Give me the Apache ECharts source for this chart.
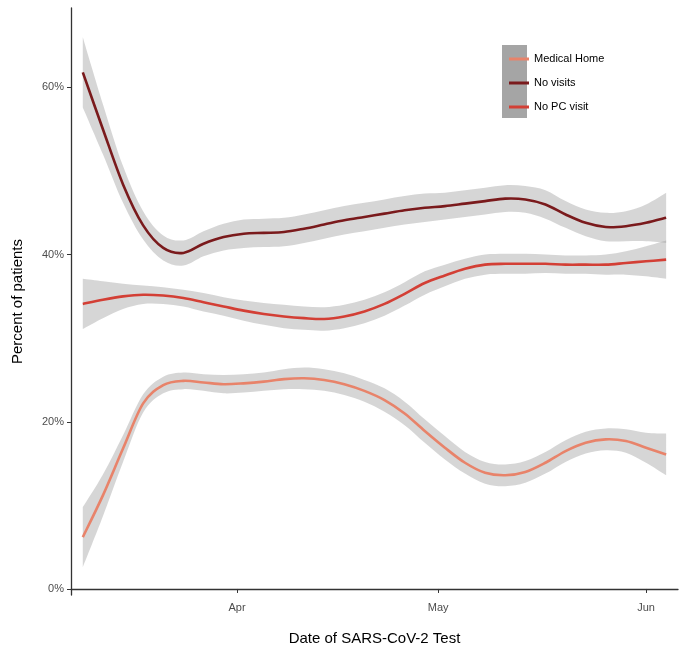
<!DOCTYPE html>
<html>
<head>
<meta charset="utf-8">
<script src="https://cdn.jsdelivr.net/npm/echarts@6/dist/echarts.min.js"></script>
<style>
html,body{margin:0;padding:0;background:#fff;}
#chart{width:686px;height:653px;}
</style>
</head>
<body>
<div id="chart"></div>
<script>
// ---- data ----
const dates = ['2020-03-09','2020-03-12','2020-03-15','2020-03-18','2020-03-21','2020-03-24','2020-03-27','2020-03-30',
  '2020-04-02','2020-04-05','2020-04-08','2020-04-11','2020-04-14','2020-04-17','2020-04-20','2020-04-23','2020-04-26','2020-04-29',
  '2020-05-02','2020-05-05','2020-05-08','2020-05-11','2020-05-14','2020-05-17','2020-05-20','2020-05-23','2020-05-26','2020-05-29',
  '2020-06-01','2020-06-04'];

const seriesNames = ['Medical Home', 'No visits', 'No PC visit'];

const medicalHome = [6.2,11.2,16.8,22.2,24.4,24.9,24.7,24.5,24.6,24.8,25.1,25.2,25.0,24.5,23.7,22.6,21.0,18.9,
  16.9,15.1,13.9,13.6,14.0,15.1,16.5,17.5,17.9,17.7,16.9,16.1];
const medicalHomeSE = [3.6,2.5,1.6,1.1,1.0,1.0,1.0,1.1,1.1,1.1,1.2,1.3,1.3,1.3,1.3,1.4,1.4,1.4,
  1.4,1.3,1.3,1.3,1.3,1.3,1.3,1.3,1.3,1.4,1.8,2.5];

const noVisits = [61.8,55.0,48.4,43.5,40.8,40.2,41.3,42.1,42.5,42.6,42.7,43.1,43.6,44.1,44.5,44.9,45.3,45.6,
  45.8,46.1,46.4,46.7,46.6,46.0,44.8,43.8,43.3,43.4,43.8,44.4];
const noVisitsSE = [4.2,3.0,2.2,1.7,1.5,1.5,1.5,1.6,1.7,1.7,1.7,1.7,1.7,1.7,1.7,1.7,1.7,1.7,
  1.6,1.6,1.6,1.6,1.6,1.7,1.6,1.6,1.7,1.8,2.2,3.0];

const noPCVisit = [34.1,34.6,35.0,35.2,35.1,34.8,34.3,33.8,33.3,32.9,32.6,32.4,32.3,32.6,33.2,34.1,35.3,36.6,
  37.5,38.3,38.8,38.9,38.9,38.9,38.8,38.8,38.8,39.0,39.2,39.4];
const noPCVisitSE = [3.0,2.2,1.5,1.1,1.0,1.0,1.1,1.1,1.2,1.3,1.4,1.4,1.4,1.4,1.4,1.4,1.4,1.4,
  1.3,1.2,1.2,1.2,1.2,1.1,1.1,1.1,1.2,1.4,1.8,2.3];

const xTickDates = ['2020-04-01','2020-05-01','2020-06-01'];
const xTickLabels = ['Apr','May','Jun'];
const yTicks = [0, 20, 40, 60];

// ---- build chart ----
const colors = ['#e8836a', '#7a1a1c', '#d33f35'];
const values = [medicalHome, noVisits, noPCVisit];
const ses = [medicalHomeSE, noVisitsSE, noPCVisitSE];

const DAY = 86400000;
function ts(s) { const p = s.split('-').map(Number); return Date.UTC(p[0], p[1]-1, p[2]) / DAY; } // days since epoch
const xs = dates.map(ts);
const xTickTs = xTickDates.map(ts);
const xMin = xTickTs[0] - 24.76;
const xMax = xTickTs[2] + 4.77;

// smooth path segment through pixel points (Catmull-Rom -> cubic Bezier)
function curveCmds(pts) {
  let d = '';
  for (let i = 0; i < pts.length - 1; i++) {
    const p0 = pts[Math.max(i - 1, 0)], p1 = pts[i], p2 = pts[i + 1], p3 = pts[Math.min(i + 2, pts.length - 1)];
    const c1 = [p1[0] + (p2[0] - p0[0]) / 6, p1[1] + (p2[1] - p0[1]) / 6];
    const c2 = [p2[0] - (p3[0] - p1[0]) / 6, p2[1] - (p3[1] - p1[1]) / 6];
    d += ' C' + c1[0] + ',' + c1[1] + ' ' + c2[0] + ',' + c2[1] + ' ' + p2[0] + ',' + p2[1];
  }
  return d;
}

const series = [];
// confidence ribbons
values.forEach((vals, i) => {
  const se = ses[i];
  const rows = vals.map((v, k) => [xs[k], v - se[k], v + se[k]]);
  series.push({
    type: 'custom', name: 'ribbon' + i, data: rows, z: 1, silent: true,
    encode: { x: 0, y: [1, 2] },
    renderItem: function (params, api) {
      if (params.dataIndex !== 0) return null;
      const up = rows.map(r => api.coord([r[0], r[2]]));
      const lo = rows.map(r => api.coord([r[0], r[1]])).reverse();
      let d = 'M' + up[0][0] + ',' + up[0][1] + curveCmds(up);
      d += ' L' + lo[0][0] + ',' + lo[0][1] + curveCmds(lo) + ' Z';
      return { type: 'path', shape: { pathData: d }, style: { fill: 'rgba(153,153,153,0.4)', stroke: null } };
    }
  });
});
// smoothed lines
values.forEach((vals, i) => {
  const rows = vals.map((v, k) => [xs[k], v]);
  series.push({
    type: 'custom', name: seriesNames[i], data: rows, z: 3, silent: true,
    color: colors[i], itemStyle: { color: colors[i] },
    encode: { x: 0, y: 1 },
    renderItem: function (params, api) {
      if (params.dataIndex !== 0) return null;
      const pts = rows.map(r => api.coord([r[0], r[1]]));
      const d = 'M' + pts[0][0] + ',' + pts[0][1] + curveCmds(pts);
      return { type: 'path', shape: { pathData: d },
        style: { fill: null, stroke: colors[i], lineWidth: 2.6, lineJoin: 'round', lineCap: 'butt' } };
    }
  });
});

const font = 'Liberation Sans, Arial, Helvetica, sans-serif';
const chart = echarts.init(document.getElementById('chart'), null, { renderer: 'canvas' });
chart.setOption({
  animation: false,
  backgroundColor: '#ffffff',
  grid: { left: 71, right: 8, top: 8, bottom: 58, containLabel: false },
  graphic: [{
    type: 'rect', left: 502, top: 45, shape: { width: 25, height: 73 },
    style: { fill: '#a5a5a5' }, z: 0, silent: true
  }],
  legend: {
    data: seriesNames.map((n, i) => ({ name: n, itemStyle: { color: colors[i] } })),
    orient: 'vertical', left: 504, top: 47,
    icon: 'rect', itemWidth: 20, itemHeight: 3, itemGap: 10, itemTextGap: 10,
    textStyle: { fontFamily: font, fontSize: 11, color: '#000', lineHeight: 14 },
    selectedMode: false
  },
  xAxis: {
    type: 'value', min: xMin, max: xMax,
    name: 'Date of SARS-CoV-2 Test', nameLocation: 'middle', nameGap: 36,
    nameTextStyle: { fontFamily: font, fontSize: 15, color: '#000', verticalAlign: 'top' },
    axisLine: { show: true, lineStyle: { color: '#333', width: 1.3 } },
    axisTick: { show: true, length: 4, customValues: xTickTs, lineStyle: { color: '#333' } },
    axisLabel: {
      customValues: xTickTs, margin: 7, fontFamily: font, fontSize: 11, color: '#4d4d4d',
      formatter: function (v) {
        const idx = xTickTs.findIndex(t => Math.abs(t - v) < 0.5);
        return idx >= 0 ? xTickLabels[idx] : '';
      }
    },
    splitLine: { show: false }
  },
  yAxis: {
    type: 'value', min: -0.72, max: 69.5,
    name: 'Percent of patients', nameLocation: 'middle', nameGap: 46,
    nameTextStyle: { fontFamily: font, fontSize: 15, color: '#000' },
    axisLine: { show: true, lineStyle: { color: '#333', width: 1.3 } },
    axisTick: { show: true, length: 4, customValues: yTicks, lineStyle: { color: '#333' } },
    axisLabel: {
      customValues: yTicks, margin: 7, fontFamily: font, fontSize: 11, color: '#4d4d4d',
      formatter: v => v + '%'
    },
    splitLine: { show: false }
  },
  series: series
});
</script>
</body>
</html>
